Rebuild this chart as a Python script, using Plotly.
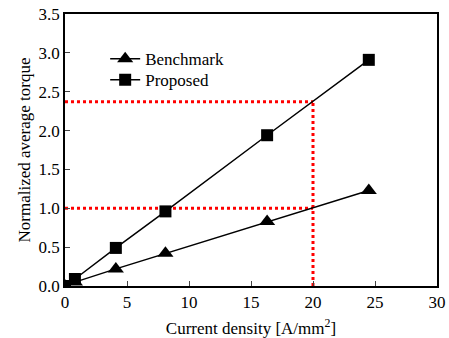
import plotly.graph_objects as go

# Data
bench_x = [0, 0.8, 4.1, 8.1, 16.3, 24.5]
bench_y = [0, 0.05, 0.22, 0.42, 0.83, 1.23]
prop_x = [0, 0.8, 4.1, 8.1, 16.3, 24.5]
prop_y = [0, 0.09, 0.49, 0.96, 1.94, 2.91]

ref_current = 20
ref_torques = [1.0, 2.37]

x_ticks = [0, 5, 10, 15, 20, 25, 30]
y_ticks = [0.0, 0.5, 1.0, 1.5, 2.0, 2.5, 3.0, 3.5]

FONT = "Liberation Serif, Times New Roman, serif"

fig = go.Figure()

# red dotted guide lines
for t in ref_torques:
    fig.add_trace(go.Scatter(x=[0, ref_current], y=[t, t], mode="lines",
                             line=dict(color="#ff0000", width=3, dash="dot"),
                             showlegend=False, hoverinfo="skip"))
fig.add_trace(go.Scatter(x=[ref_current, ref_current], y=[0, max(ref_torques)], mode="lines",
                         line=dict(color="#ff0000", width=3, dash="dot"),
                         showlegend=False, hoverinfo="skip"))

fig.add_trace(go.Scatter(x=bench_x, y=bench_y, mode="lines+markers", name="Benchmark",
                         line=dict(color="black", width=1.5), legend="legend",
                         marker=dict(symbol="triangle-up", size=14, color="black")))
fig.add_trace(go.Scatter(x=prop_x, y=prop_y, mode="lines+markers", name="Proposed",
                         line=dict(color="black", width=1.5), legend="legend2",
                         marker=dict(symbol="square", size=12, color="black")))

leg_common = dict(xanchor="left", yanchor="top", bgcolor="rgba(0,0,0,0)",
                  font=dict(size=17, family=FONT))
fig.update_layout(
    width=449, height=338,
    margin=dict(l=65, r=12, t=14, b=52),
    paper_bgcolor="white", plot_bgcolor="white",
    font=dict(family=FONT, size=17, color="black"),
    legend=dict(x=0.108, y=0.90, **leg_common),
    legend2=dict(x=0.108, y=0.823, **leg_common),
    showlegend=True,
)
fig.update_xaxes(range=[0, 30], tickvals=x_ticks, ticks="inside", ticklen=5,
                 showline=True, linecolor="black", linewidth=1.5, mirror=True,
                 showgrid=False, zeroline=False, automargin=False,
                 title=dict(text="Current density [A/mm<sup>2</sup>]", font=dict(size=17), standoff=12),
                 tickfont=dict(size=17))
fig.update_yaxes(range=[0, 3.5], tickvals=y_ticks, tickformat=".1f", ticks="inside", ticklen=5,
                 showline=True, linecolor="black", linewidth=1.5, mirror=True,
                 showgrid=False, zeroline=False, automargin=False,
                 title=dict(text="Normalized average torque", font=dict(size=17), standoff=4),
                 tickfont=dict(size=17))

fig.write_html("out.html", config={"displayModeBar": False},
               post_script="document.body.style.margin='0';")
